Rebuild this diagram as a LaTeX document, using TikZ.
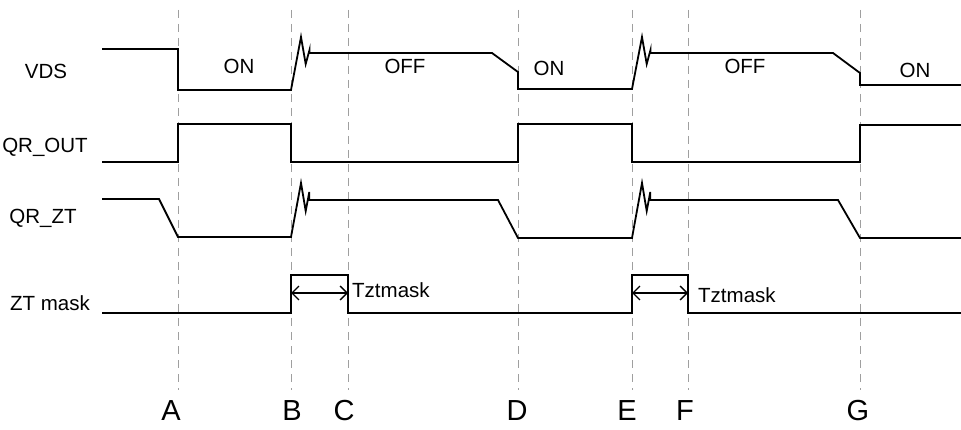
\documentclass[tikz,border=0pt]{standalone}
\usepackage{fontspec}
\setmainfont{Liberation Sans}
\usetikzlibrary{arrows.meta}
\begin{document}
\begin{tikzpicture}[x=1pt,y=-1pt,
  sig/.style={line width=1.8pt, line join=miter},
  guide/.style={gray!75, line width=0.9pt, dash pattern=on 8pt off 6pt},
  lbl/.style={font=\fontsize{20.5}{23}\selectfont, inner sep=0pt},
  big/.style={font=\fontsize{29}{32}\selectfont, inner sep=0pt},
  dimarrow/.style={line width=1.3pt, {Straight Barb[length=7pt,width=14pt]}-{Straight Barb[length=7pt,width=14pt]}}]
\useasboundingbox (0,0) rectangle (961,430);
% guides
\foreach \n/\x in {A/178,B/291,C/348,D/518,E/632,F/688,G/860}{
  \coordinate (\n top) at (\x,10);
  \coordinate (\n bot) at (\x,390);
  \draw[guide] (\n top) -- (\n bot);
}
% bottom letters
\node[big] (lA) at (171,411) {A};
\node[big] (lB) at (292,411) {B};
\node[big] (lC) at (344,411) {C};
\node[big] (lD) at (517,411) {D};
\node[big] (lE) at (627,411) {E};
\node[big] (lF) at (685,411) {F};
\node[big] (lG) at (858,411) {G};
% signal names
\node[lbl] (nVDS) at (46,71) {VDS};
\node[lbl] (nQR) at (45,147) {QR\_OUT};
\node[lbl] (nZT) at (43,218) {QR\_ZT};
\node[lbl] (nMask) at (50,303) {ZT mask};
% state labels
\node[lbl] (on1) at (239,66) {ON};
\node[lbl] (off1) at (405,66) {OFF};
\node[lbl] (on2) at (549,68) {ON};
\node[lbl] (off2) at (745,66) {OFF};
\node[lbl] (on3) at (915,70) {ON};
% VDS
\draw[sig] (102,49) -- (178,49) -- (178,90) -- (291,90) -- (301,37) -- (305.7,64) -- (309.5,50) -- (309.5,53)
  -- (492,53) -- (518,72) -- (518,89) -- (632,89) -- (642,37) -- (646.7,64) -- (650.5,50) -- (650.5,53)
  -- (833,53) -- (860,73) -- (860,85) -- (961,85);
% QR_OUT
\draw[sig] (102,162) -- (178,162) -- (178,124) -- (291,124) -- (291,162) -- (518,162) -- (518,124)
  -- (632,124) -- (632,162) -- (860,162) -- (860,125) -- (961,125);
% QR_ZT
\draw[sig] (102,199) -- (159,199) -- (178,237) -- (291,237) -- (301,183) -- (305.7,211) -- (309.3,192) -- (309.3,200)
  -- (498,200) -- (518,238) -- (632,238) -- (642,183) -- (646.7,211) -- (650.3,192) -- (650.3,200)
  -- (838,200) -- (860,238) -- (961,238);
% ZT mask
\draw[sig] (102,313) -- (291,313) -- (291,275) -- (348,275) -- (348,313) -- (632,313) -- (632,275)
  -- (688,275) -- (688,313) -- (961,313);
% Tztmask arrows
\coordinate (m1l) at (291,293);
\coordinate (m1r) at (348,293);
\coordinate (m2l) at (632,293);
\coordinate (m2r) at (688,293);
\draw[dimarrow] (m1l) -- (m1r);
\draw[dimarrow] (m2l) -- (m2r);
\node[lbl, anchor=west] (t1) at (352,290) {Tztmask};
\node[lbl, anchor=west] (t2) at (698,295) {Tztmask};
\end{tikzpicture}
\end{document}
